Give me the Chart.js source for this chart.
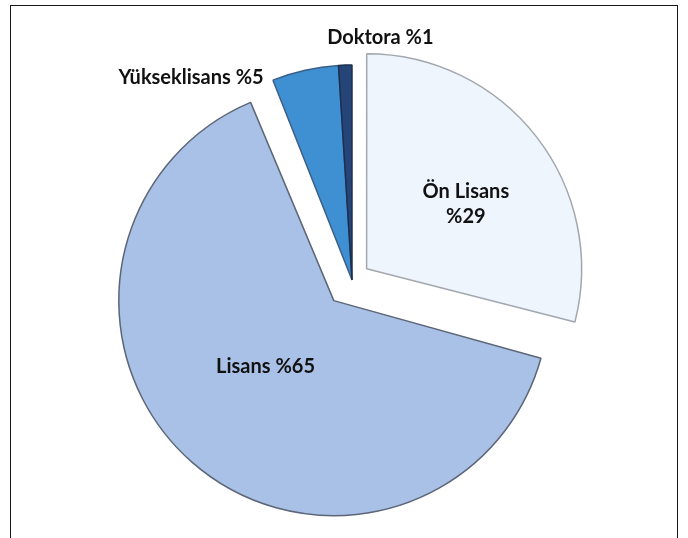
<!DOCTYPE html>
<html>
<head>
<meta charset="utf-8">
<script src="https://cdn.jsdelivr.net/npm/chart.js@4/dist/chart.umd.min.js"></script>
<style>
  html, body { margin: 0; padding: 0; background: #fff; }
  #wrap { position: relative; width: 688px; height: 538px; overflow: hidden; }
  #frame {
    position: absolute; left: 10px; top: 5px; width: 668px; height: 600px;
    border: 1.5px solid #1a1a1a; box-sizing: border-box;
  }
  #chart { position: absolute; left: 0; top: 0; }
</style>
</head>
<body>
<div id="wrap">
  <div id="frame"></div>
  <canvas id="chart" width="688" height="538"></canvas>
</div>
<script>
// Eğitim durumu dağılımı (%)
const kategoriler = ["Ön Lisans", "Lisans", "Yükseklisans", "Doktora"];
const yuzdeler = [29, 65, 5, 1];
const renkler = ["#eef5fd", "#a9c1e6", "#3f8fd3", "#254579"];
const kenarRenkleri = ["#a3a8ae", "#5c6677", "#3c5f86", "#1c2f4f"];
// Chart.js dilimi offset/4 kadar kaydırıyor
const ayrilma = [74, 110, 0, 0];

// Etiket satırları ve dilime göre konumu (yarıçap oranı + ince kaydırma)
const etiketler = [
  { lines: ["Ön Lisans", "%29"], r: 0.49, dx: 16, dy: 0, align: "center" },
  { lines: ["Lisans %65"], r: 0.41, dx: -10, dy: 0, align: "center" },
  { lines: ["Yükseklisans %5"], r: 0.967, dx: -43, dy: 0, align: "right" },
  { lines: ["Doktora %1"], r: 1.13, dx: 36, dy: 0, align: "center" }
];

// Ayrılan dilimler büyümesin: kaydırmayla gelen yarıçap artışını geri al
const sabitYaricap = {
  id: "sabitYaricap",
  afterDatasetUpdate(chart, args) {
    args.meta.data.forEach(arc => {
      const off = (arc.options.offset || 0) / 4;
      const fix = 1 - Math.sin(Math.min(Math.PI, arc.circumference || 0));
      arc.outerRadius -= off * fix;
    });
  }
};

const etiketEklentisi = {
  id: "dilimEtiketleri",
  afterDatasetsDraw(chart) {
    const ctx = chart.ctx;
    const arcs = chart.getDatasetMeta(0).data;
    const R = chart.getDatasetMeta(0).controller.outerRadius;
    ctx.save();
    ctx.fillStyle = "#111";
    ctx.font = "bold 20px Lato";
    ctx.textBaseline = "middle";
    arcs.forEach((arc, i) => {
      const e = etiketler[i];
      const orta = (arc.startAngle + arc.endAngle) / 2;
      const kay = (arc.options.offset || 0) / 4;
      const d = kay + R * e.r;
      const cx = arc.x + Math.cos(orta) * d + e.dx;
      const cy = arc.y + Math.sin(orta) * d + e.dy;
      ctx.textAlign = e.align;
      const lh = 25;
      e.lines.forEach((t, k) => {
        ctx.fillText(t, cx, cy + (k - (e.lines.length - 1) / 2) * lh);
      });
    });
    ctx.restore();
  }
};

new Chart(document.getElementById("chart"), {
  type: "pie",
  data: {
    labels: kategoriler,
    datasets: [{
      data: yuzdeler,
      backgroundColor: renkler,
      borderColor: kenarRenkleri,
      borderWidth: 1.5,
      offset: ayrilma,
      hoverOffset: 0,
      radius: 215
    }]
  },
  options: {
    responsive: false,
    animation: false,
    events: [],
    layout: { padding: { left: 16, right: 0, top: 22, bottom: 0 } },
    plugins: {
      legend: { display: false },
      tooltip: { enabled: false }
    }
  },
  plugins: [sabitYaricap, etiketEklentisi]
});
</script>
</body>
</html>
